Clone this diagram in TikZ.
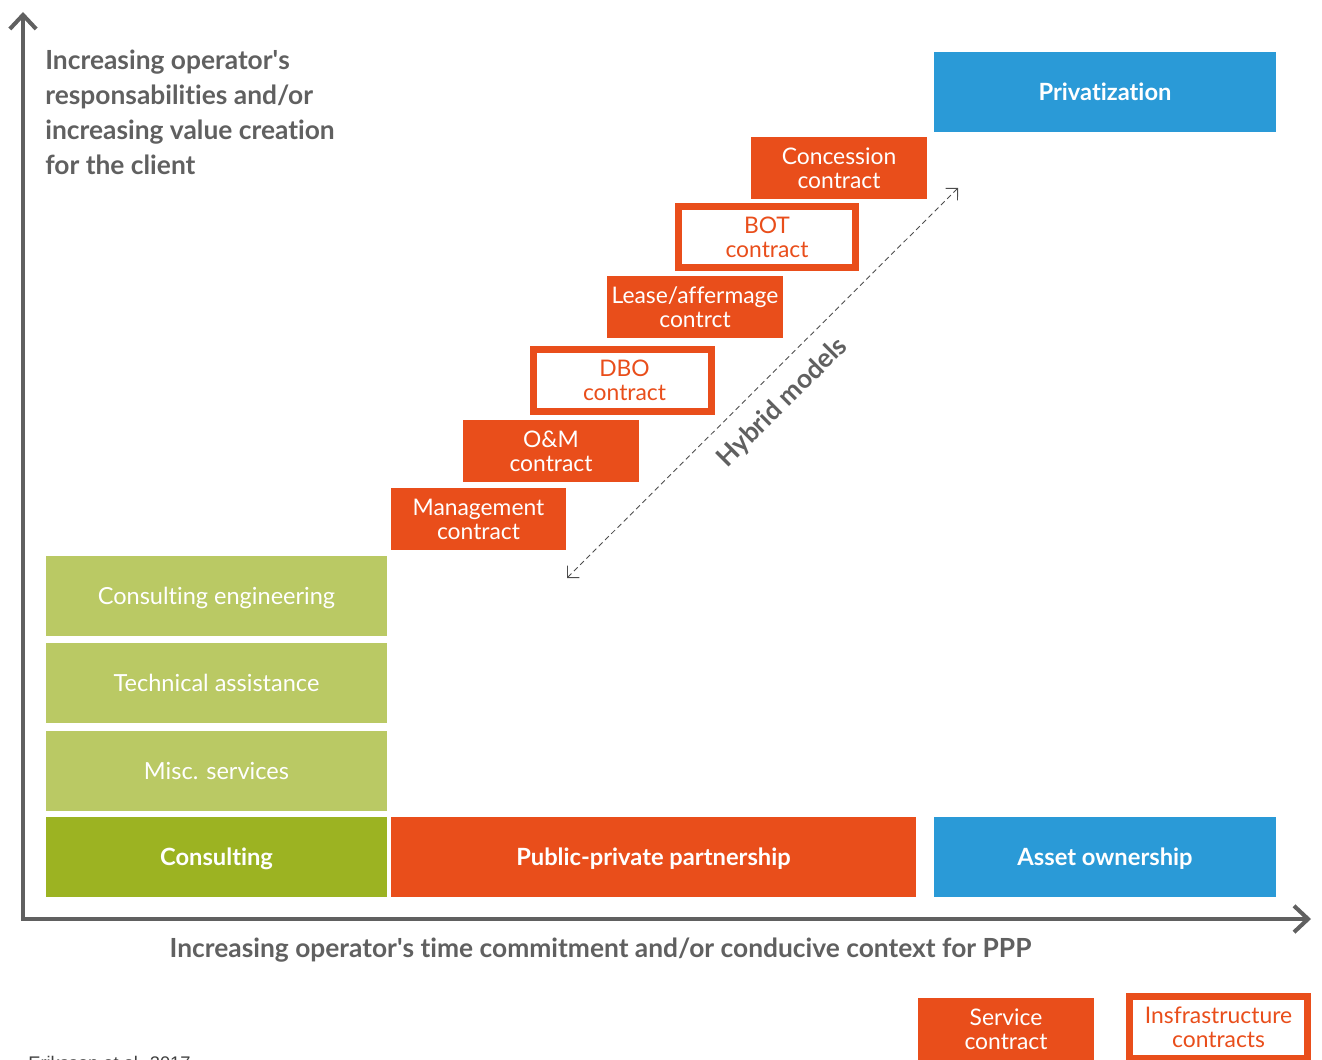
\documentclass[tikz,border=0pt]{standalone}
\usepackage{fontspec}
\setmainfont{Lato}[Ligatures={TeX,NoCommon}]
\newfontfamily\citefont{Liberation Sans}
\usetikzlibrary{arrows.meta}

\definecolor{pppred}{RGB}{233,78,27}
\definecolor{consgreen}{RGB}{156,179,34}
\definecolor{lightgreen}{RGB}{186,201,100}
\definecolor{assetblue}{RGB}{42,154,215}
\definecolor{axisgray}{RGB}{96,96,96}

\begin{document}
\begin{tikzpicture}[x=0.02cm, y=-0.02cm,
    block/.style={
        minimum width=6.82cm,
        minimum height=1.6cm,
        inner sep=0pt,
        text depth=0pt,
        text=white,
        font=\fontsize{13.4}{15}\selectfont
      },
    light/.style={block, fill=lightgreen},
    main/.style={block, font=\fontsize{13.5}{15}\selectfont\bfseries},
    contract/.style={
        fill=pppred,
        text=white,
        minimum width=3.52cm,
        minimum height=1.24cm,
        inner sep=0pt,
        align=center,
        font=\fontsize{13}{13.6}\selectfont
      },
    infra/.style={
        contract,
        draw=pppred,
        line width=0.14cm,
        fill=white,
        text=pppred,
        minimum width=3.56cm
      },
    axislabel/.style={text=axisgray, inner sep=0pt, font=\fontsize{15}{19.8}\selectfont\bfseries},
    axis/.style={axisgray, line width=2.3pt, line join=miter,
        {Straight Barb[length=8pt,width=15pt]}-{Straight Barb[length=8pt,width=15pt]}},
    hybrid/.style={axisgray!80!black, line width=0.5pt, densely dashed,
        {Straight Barb[length=4.8pt,width=9.6pt]}-{Straight Barb[length=4.8pt,width=9.6pt]}}
  ]
  \useasboundingbox (0,0) rectangle (1322,1060);

  % axes
  \coordinate (ytop) at (23,12);
  \coordinate (origin) at (23,919);
  \coordinate (xend) at (1311,919);
  \draw[axis] (ytop) -- (origin) -- (xend);

  \node[axislabel, anchor=north west, align=left] (ylabel) at (45,50)
    {Increasing operator\textquotesingle s\\responsabilities and/or\\increasing value creation\\for the client};
  \node[axislabel, anchor=base] (xlabel) at (600.5,957)
    {Increasing operator\textquotesingle s time commitment and/or conducive context for PPP};

  % consulting column
  \node[light] (engineering) at (216.5,596) {Consulting engineering};
  \node[light] (assistance) at (216.5,683) {Technical assistance};
  \node[light] (misc) at (216.5,771) {Misc. services};
  \node[main, fill=consgreen] (consulting) at (216.5,857) {Consulting};

  % ppp and ownership
  \node[main, fill=pppred, minimum width=10.5cm] (ppp) at (653.5,857) {Public-private partnership};
  \node[main, fill=assetblue, minimum width=6.84cm] (asset) at (1105,857) {Asset ownership};
  \node[main, fill=assetblue, minimum width=6.84cm] (privat) at (1105,92) {Privatization};

  % contract staircase
  \node[contract] (mgmt) at (478.5,519) {Management\\contract};
  \node[contract] (om) at (551,451) {O\&M\\contract};
  \node[infra] (dbo) at (622.5,380.5) {\hspace*{0.08cm}DBO\\\hspace*{0.08cm}contract};
  \node[contract] (lease) at (695,307) {Lease/affermage\\contrct};
  \node[infra] (bot) at (767,237) {BOT\\contract};
  \node[contract] (concession) at (839,168) {Concession\\contract};

  % hybrid models
  \coordinate (hyblo) at (567,578);
  \coordinate (hybhi) at (958,188);
  \draw[hybrid] (hyblo) -- (hybhi)
    node[midway, sloped, below=9pt, axislabel] (hyblabel) {Hybrid models};

  % legend
  \node[contract] (service) at (1006,1029) {Service\\contract};
  \node[infra] (infrakey) at (1218.5,1027.5) {Insfrastructure\\contracts};

  \node[anchor=base west, inner sep=0pt, text=black!75, font=\citefont\fontsize{10.4}{12}\selectfont] (source) at (28,1069) {Eriksson et al. 2017};
\end{tikzpicture}
\end{document}
